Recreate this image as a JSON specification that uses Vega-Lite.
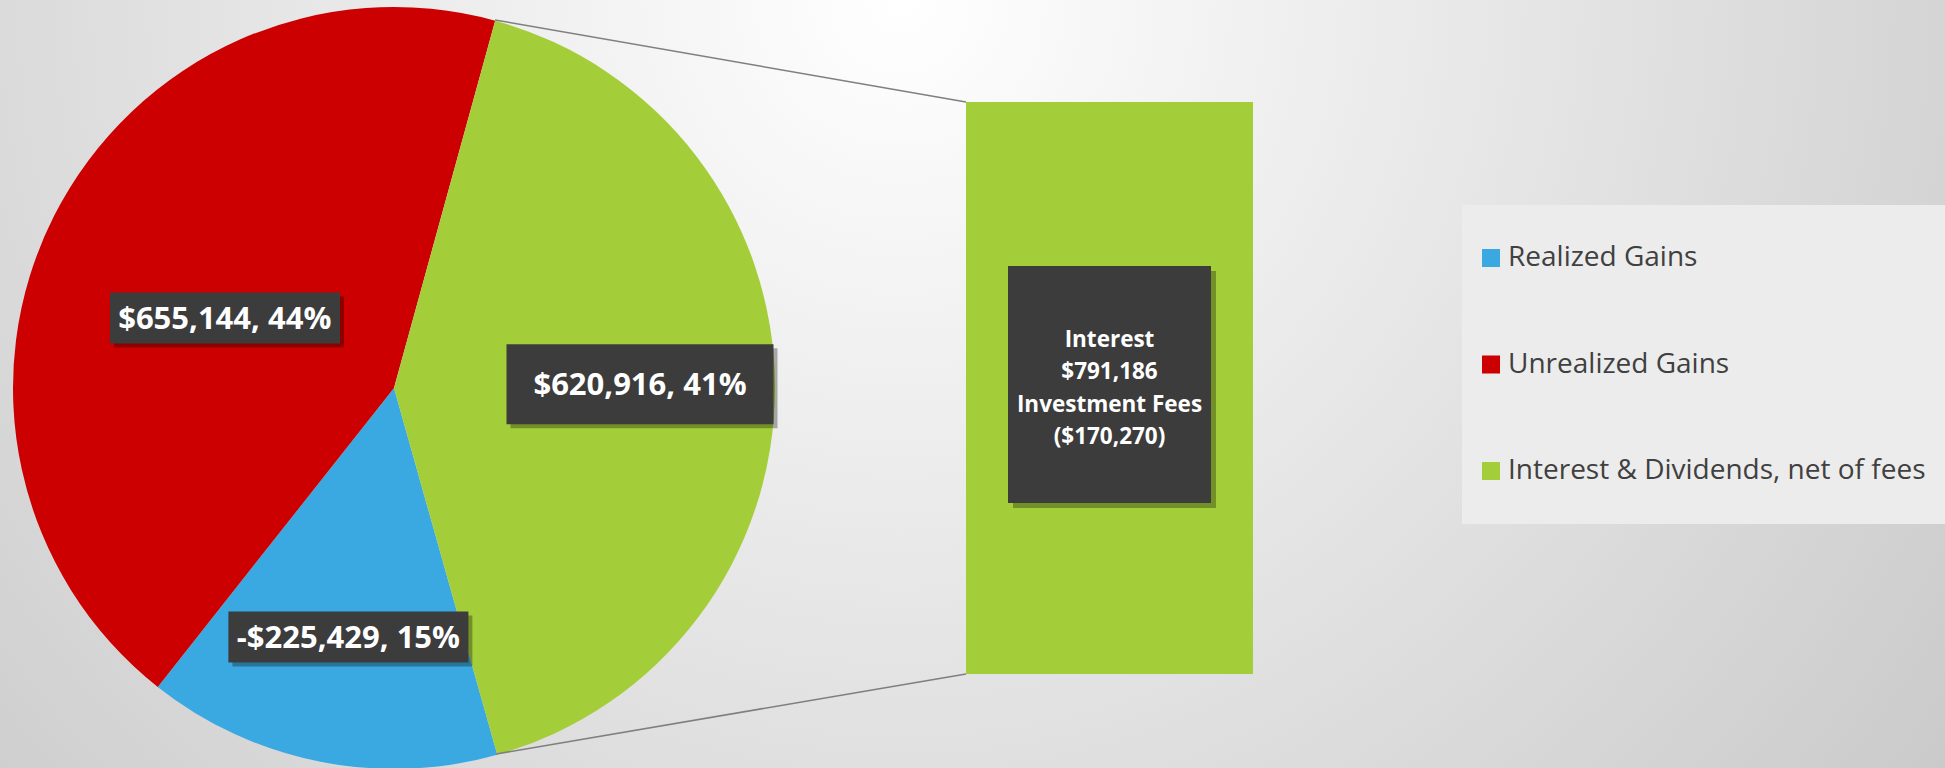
{
  "$schema": "https://vega.github.io/schema/vega-lite/v6.json",
  "width": 1945,
  "height": 776,
  "padding": 0,
  "autosize": {"type": "pad"},
  "background": "#d6d6d6",
  "datasets": {
    "pie": [
      {"chart": "Pie", "category": "Realized Gains", "amount": -225429, "value": 225429, "label": "-$225,429, 15%"},
      {"chart": "Pie", "category": "Unrealized Gains", "amount": 655144, "value": 655144, "label": "$655,144, 44%"},
      {"chart": "Pie", "category": "Interest & Dividends, net of fees", "amount": 620916, "value": 620916, "label": "$620,916, 41%"}
    ],
    "bar": [
      {"chart": "Bar", "category": "Interest & Dividends, net of fees", "value": 620916, "interest": 791186, "fees": -170270, "label": ["Interest", "$791,186", "Investment Fees", "($170,270)"]}
    ]
  },
  "config": {
    "view": {
      "stroke": null,
      "fill": {"gradient": "radial", "x1": 0.463, "y1": 0.3005, "r1": 0, "x2": 0.463, "y2": 0.3005, "r2": 0.72,
        "stops": [{"offset": 0, "color": "#ffffff"}, {"offset": 1, "color": "#c6c6c6"}]}
    }
  },
  "layer": [
    {
      "data": {"name": "pie"},
      "mark": {"type": "arc", "outerRadius": 381},
      "encoding": {
        "x": {"field": "chart", "type": "nominal", "scale": {"type": "point", "domain": ["Pie", "Bar"], "range": [394, 1109.5], "padding": 0}, "axis": null},
        "theta": {"field": "value", "type": "quantitative", "stack": true, "scale": {"range": [0.2688, 6.552]}},
        "order": {"field": "category", "type": "ordinal", "sort": "ascending"},
        "color": {
          "field": "category", "type": "nominal",
          "scale": {"domain": ["Realized Gains", "Unrealized Gains", "Interest & Dividends, net of fees"], "range": ["#3ba9e1", "#cc0000", "#a4ce39"]},
          "legend": {"orient": "none", "legendX": 1462, "legendY": 205, "direction": "vertical", "title": null, "fillColor": "#ececec", "padding": 20,
            "symbolType": "M-1,-0.2727H-0.4545V0.2727H-1Z M-1,-1L-1,1", "symbolSize": 4356, "symbolStrokeWidth": 0, "symbolOpacity": 1,
            "labelOffset": -40, "labelFont": "Open Sans", "labelFontSize": 28, "labelColor": "#404040", "rowPadding": 40.5, "labelLimit": 1000}
        }
      }
    },
    {
      "data": {"name": "bar"},
      "mark": {"type": "rule", "stroke": "#7f7f7f", "strokeWidth": 1.5, "xOffset": 101, "yOffset": -82, "x2Offset": -143.5},
      "encoding": {
        "x": {"datum": "Pie", "type": "nominal", "axis": null},
        "x2": {"datum": "Bar"},
        "y": {"field": "value", "type": "quantitative", "axis": null},
        "y2": {"field": "value"}
      }
    },
    {
      "data": {"name": "bar"},
      "mark": {"type": "rule", "stroke": "#7f7f7f", "strokeWidth": 1.5, "xOffset": 102, "yOffset": 80, "x2Offset": -143.5},
      "encoding": {
        "x": {"datum": "Pie", "type": "nominal", "axis": null},
        "x2": {"datum": "Bar"},
        "y": {"datum": 0, "type": "quantitative", "axis": null},
        "y2": {"datum": 0}
      }
    },
    {
      "data": {"name": "pie"},
      "transform": [{"filter": "datum.category === 'Unrealized Gains'"}],
      "mark": {"type": "point", "shape": "M-1,-0.2217H1V0.2217H-1Z", "size": 52900, "filled": true, "fill": "#000000", "opacity": 0.3, "strokeWidth": 0, "xOffset": -165, "yOffset": -66},
      "encoding": {"x": {"field": "chart", "type": "nominal", "axis": null}}
    },
    {
      "data": {"name": "pie"},
      "transform": [{"filter": "datum.category === 'Interest & Dividends, net of fees'"}],
      "mark": {"type": "point", "shape": "M-1,-0.2996H1V0.2996H-1Z", "size": 71289, "filled": true, "fill": "#000000", "opacity": 0.3, "strokeWidth": 0, "xOffset": 250, "yOffset": 0.3},
      "encoding": {"x": {"field": "chart", "type": "nominal", "axis": null}}
    },
    {
      "data": {"name": "pie"},
      "transform": [{"filter": "datum.category === 'Realized Gains'"}],
      "mark": {"type": "point", "shape": "M-1,-0.2125H1V0.2125H-1Z", "size": 57600, "filled": true, "fill": "#000000", "opacity": 0.3, "strokeWidth": 0, "xOffset": -41.6, "yOffset": 253},
      "encoding": {"x": {"field": "chart", "type": "nominal", "axis": null}}
    },
    {
      "data": {"name": "pie"},
      "transform": [{"filter": "datum.category === 'Unrealized Gains'"}],
      "mark": {"type": "point", "shape": "M-1,-0.2217H1V0.2217H-1Z", "size": 52900, "filled": true, "fill": "#3c3c3c", "opacity": 1, "strokeWidth": 0, "xOffset": -169, "yOffset": -70},
      "encoding": {"x": {"field": "chart", "type": "nominal", "axis": null}}
    },
    {
      "data": {"name": "pie"},
      "transform": [{"filter": "datum.category === 'Interest & Dividends, net of fees'"}],
      "mark": {"type": "point", "shape": "M-1,-0.2996H1V0.2996H-1Z", "size": 71289, "filled": true, "fill": "#3c3c3c", "opacity": 1, "strokeWidth": 0, "xOffset": 246, "yOffset": -3.7},
      "encoding": {"x": {"field": "chart", "type": "nominal", "axis": null}}
    },
    {
      "data": {"name": "pie"},
      "transform": [{"filter": "datum.category === 'Realized Gains'"}],
      "mark": {"type": "point", "shape": "M-1,-0.2125H1V0.2125H-1Z", "size": 57600, "filled": true, "fill": "#3c3c3c", "opacity": 1, "strokeWidth": 0, "xOffset": -45.6, "yOffset": 249},
      "encoding": {"x": {"field": "chart", "type": "nominal", "axis": null}}
    },
    {
      "data": {"name": "pie"},
      "mark": {"type": "text", "radius": 183, "dx": -6, "dy": 15, "font": "Open Sans", "fontWeight": "bold", "fontSize": 31, "fill": "#ffffff", "align": "center", "baseline": "middle"},
      "encoding": {
        "x": {"field": "chart", "type": "nominal", "axis": null},
        "theta": {"field": "value", "type": "quantitative", "stack": true},
        "order": {"field": "category", "type": "ordinal", "sort": "ascending"},
        "detail": {"field": "category", "type": "nominal"},
        "text": {"condition": {"test": "datum.category === 'Unrealized Gains'", "field": "label", "type": "nominal"}, "value": ""}
      }
    },
    {
      "data": {"name": "pie"},
      "mark": {"type": "text", "radius": 246, "dx": 0, "dy": -1, "font": "Open Sans", "fontWeight": "bold", "fontSize": 31, "fill": "#ffffff", "align": "center", "baseline": "middle"},
      "encoding": {
        "x": {"field": "chart", "type": "nominal", "axis": null},
        "theta": {"field": "value", "type": "quantitative", "stack": true},
        "order": {"field": "category", "type": "ordinal", "sort": "ascending"},
        "detail": {"field": "category", "type": "nominal"},
        "text": {"condition": {"test": "datum.category === 'Interest & Dividends, net of fees'", "field": "label", "type": "nominal"}, "value": ""}
      }
    },
    {
      "data": {"name": "pie"},
      "mark": {"type": "text", "radius": 253, "dx": 4, "dy": 3, "font": "Open Sans", "fontWeight": "bold", "fontSize": 31, "fill": "#ffffff", "align": "center", "baseline": "middle"},
      "encoding": {
        "x": {"field": "chart", "type": "nominal", "axis": null},
        "theta": {"field": "value", "type": "quantitative", "stack": true},
        "order": {"field": "category", "type": "ordinal", "sort": "ascending"},
        "detail": {"field": "category", "type": "nominal"},
        "text": {"condition": {"test": "datum.category === 'Realized Gains'", "field": "label", "type": "nominal"}, "value": ""}
      }
    },
    {
      "data": {"name": "bar"},
      "mark": {"type": "bar", "width": 287},
      "encoding": {
        "x": {"field": "chart", "type": "nominal", "axis": null},
        "y": {"field": "value", "type": "quantitative", "scale": {"domain": [0, 620916], "range": [674, 102], "nice": false, "zero": true}, "axis": null},
        "color": {"field": "category", "type": "nominal"}
      }
    },
    {
      "data": {"name": "bar"},
      "mark": {"type": "point", "shape": "M-0.8565,-1H0.8565V1H-0.8565Z", "size": 56169, "filled": true, "fill": "#000000", "opacity": 0.3, "strokeWidth": 0, "xOffset": 5, "yOffset": 1.5},
      "encoding": {"x": {"field": "chart", "type": "nominal", "axis": null}}
    },
    {
      "data": {"name": "bar"},
      "mark": {"type": "point", "shape": "M-0.8565,-1H0.8565V1H-0.8565Z", "size": 56169, "filled": true, "fill": "#3c3c3c", "opacity": 1, "strokeWidth": 0, "yOffset": -3.5},
      "encoding": {"x": {"field": "chart", "type": "nominal", "axis": null}}
    },
    {
      "data": {"name": "bar"},
      "mark": {"type": "text", "font": "Open Sans", "fontWeight": "bold", "fontSize": 22.5, "lineHeight": 32.5, "fill": "#ffffff", "align": "center", "baseline": "middle", "dy": -48.5},
      "encoding": {
        "x": {"field": "chart", "type": "nominal", "axis": null},
        "text": {"field": "label", "type": "nominal"}
      }
    }
  ]
}
